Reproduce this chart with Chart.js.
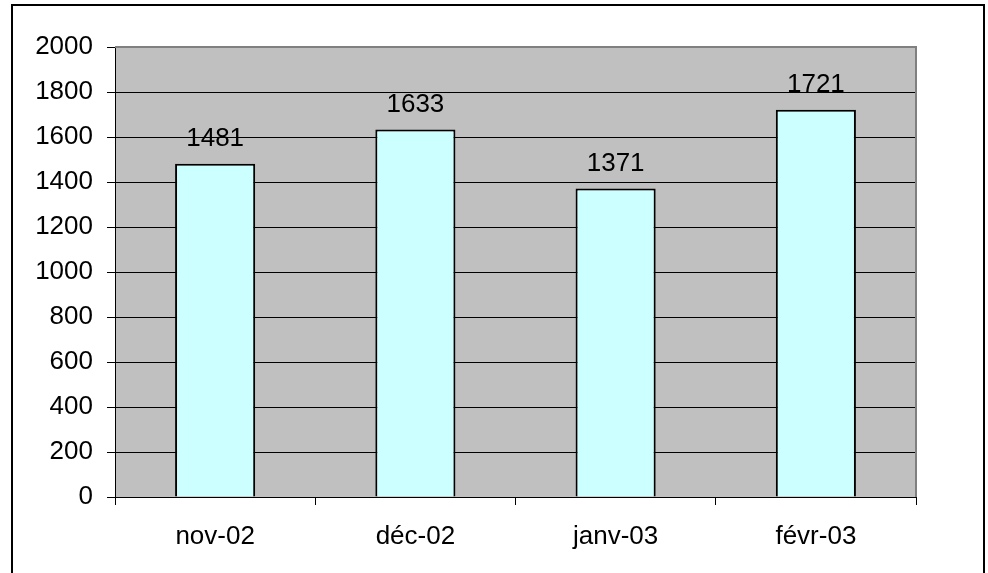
<!DOCTYPE html>
<html lang="fr">
<head>
<meta charset="UTF-8">
<title>Chart</title>
<script src="https://cdn.jsdelivr.net/npm/chart.js@4.4.0/dist/chart.umd.min.js"></script>
<style>
  body { margin: 0; background: #fff; }
  canvas { display: block; }
</style>
</head>
<body>
<canvas id="chart" width="988" height="573"></canvas>
<script>
const months = ['nov-02', 'déc-02', 'janv-03', 'févr-03'];
const counts = [1481, 1633, 1371, 1721];
const yTicks = [0, 200, 400, 600, 800, 1000, 1200, 1400, 1600, 1800, 2000];

const fontFace = '"Liberation Sans", Arial, sans-serif';

// gray plot area, frame and outer border
const frame = {
    id: 'frame',
    beforeDraw(chart) {
        const c = chart.ctx, a = chart.chartArea;
        c.save();
        c.fillStyle = '#ffffff';
        c.fillRect(0, 0, chart.width, chart.height);
        c.fillStyle = '#c0c0c0';
        c.fillRect(a.left, a.top, a.right - a.left, a.bottom - a.top);
        c.restore();
    },
    afterDraw(chart) {
        const c = chart.ctx, a = chart.chartArea;
        c.save();
        c.strokeStyle = '#808080';
        c.lineWidth = 2;
        c.beginPath();
        c.moveTo(a.left, a.top);
        c.lineTo(a.right, a.top);
        c.lineTo(a.right, a.bottom);
        c.stroke();
        c.strokeStyle = '#000';
        c.lineWidth = 2;
        c.beginPath();
        c.moveTo(12, 580);
        c.lineTo(12, 5);
        c.lineTo(984, 5);
        c.lineTo(984, 580);
        c.stroke();
        c.restore();
    }
};

// value labels above each bar
const valueLabels = {
    id: 'valueLabels',
    afterDatasetsDraw(chart) {
        const c = chart.ctx;
        c.save();
        c.font = '26px ' + fontFace;
        c.fillStyle = '#000';
        c.textAlign = 'center';
        c.textBaseline = 'alphabetic';
        chart.getDatasetMeta(0).data.forEach((bar, i) => {
            c.fillText(counts[i], bar.x, bar.y - 18);
        });
        c.restore();
    }
};

new Chart(document.getElementById('chart'), {
    type: 'bar',
    data: {
        labels: months,
        datasets: [{
            data: counts,
            backgroundColor: '#ccffff',
            borderColor: '#000',
            borderWidth: 2,
            barPercentage: 0.4,
            categoryPercentage: 1
        }]
    },
    options: {
        responsive: false,
        animation: false,
        layout: { padding: { top: 47, right: 72, left: 0, bottom: 0 } },
        plugins: { legend: { display: false }, tooltip: { enabled: false } },
        scales: {
            y: {
                min: 0,
                max: 2000,
                afterFit(scale) { scale.width = 115; },
                afterBuildTicks(scale) { scale.ticks = yTicks.map(v => ({ value: v })); },
                ticks: {
                    color: '#000',
                    font: { family: fontFace, size: 26 },
                    padding: 14,
                    callback: v => String(v)
                },
                grid: { color: '#000', lineWidth: 1, tickLength: 8 },
                border: { display: true, color: '#000', width: 1 }
            },
            x: {
                afterFit(scale) { scale.height = 76; },
                ticks: { color: '#000', font: { family: fontFace, size: 26 }, padding: 16 },
                grid: { drawOnChartArea: false, color: '#000', lineWidth: 1, tickLength: 8 },
                border: { display: true, color: '#000', width: 1 }
            }
        }
    },
    plugins: [frame, valueLabels]
});
</script>
</body>
</html>
